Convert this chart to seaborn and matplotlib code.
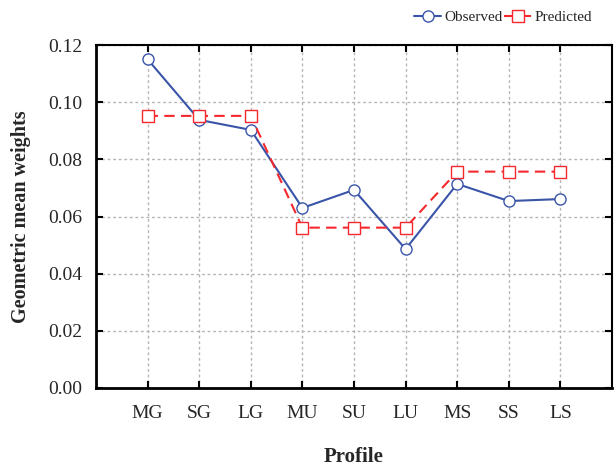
import numpy as np
import pandas as pd
import seaborn as sns
import matplotlib.pyplot as plt

# values
profiles = ['MG', 'SG', 'LG', 'MU', 'SU', 'LU', 'MS', 'SS', 'LS']
observed = [0.115, 0.0938, 0.0903, 0.0630, 0.0693, 0.0486, 0.0714, 0.0654, 0.0661]
predicted = [0.0952, 0.0952, 0.0952, 0.0561, 0.0561, 0.0561, 0.0757, 0.0757, 0.0757]
y_ticks = [0.00, 0.02, 0.04, 0.06, 0.08, 0.10, 0.12]

sns.set_style('white')
plt.rcParams['font.family'] = ['Liberation Serif', 'DejaVu Serif']

fig = plt.figure(figsize=(6.14, 4.67), dpi=100)
ax = fig.add_axes([96 / 614, 79 / 467, 516 / 614, 343 / 467])

df = pd.DataFrame({'Profile': profiles, 'Observed': observed, 'Predicted': predicted})

sns.lineplot(data=df, x='Profile', y='Observed', sort=False, ax=ax,
             color='#3A55A8', linewidth=1.5, marker='o', markersize=8,
             markerfacecolor='white', markeredgecolor='#3A55A8',
             markeredgewidth=1.0, label='Observed', zorder=3)
sns.lineplot(data=df, x='Profile', y='Predicted', sort=False, ax=ax,
             color='#F5282D', linewidth=1.5, linestyle=(0, (5, 3)), marker='s',
             markersize=8, markerfacecolor='white', markeredgecolor='#F5282D',
             markeredgewidth=1.0, label='Predicted', zorder=4)

ax.set_xlim(-1, 9)
ax.set_ylim(0, 0.12)
ax.set_yticks(y_ticks)
ax.set_yticklabels([f'{v:.2f}' for v in y_ticks])

ax.grid(True, color='#B5B5B5', linestyle=(0, (2, 2)), linewidth=1.0)
for s in ax.spines.values():
    s.set_visible(True)
    s.set_color('black')
ax.spines['left'].set_linewidth(2.0)
ax.spines['bottom'].set_linewidth(2.0)
ax.spines['top'].set_linewidth(1.5)
ax.spines['right'].set_linewidth(1.5)

ax.tick_params(axis='both', direction='in', length=5, width=1.5, color='black',
               top=True, right=True, bottom=True, left=True, labelsize=14)
ax.tick_params(axis='x', pad=12)
ax.tick_params(axis='y', pad=10)

ax.set_xlabel('Profile', fontsize=15, fontweight='bold', labelpad=18)
ax.set_ylabel('Geometric mean weights', fontsize=14.5, fontweight='bold', labelpad=12)

ax.legend(loc='center right', bbox_to_anchor=(600 / 614, 1 - 17 / 467),
          bbox_transform=fig.transFigure, ncol=2, frameon=False, fontsize=11,
          handlelength=1.8, handletextpad=0.2, columnspacing=0.1, borderpad=0)

fig.savefig('out.png', dpi=100)
